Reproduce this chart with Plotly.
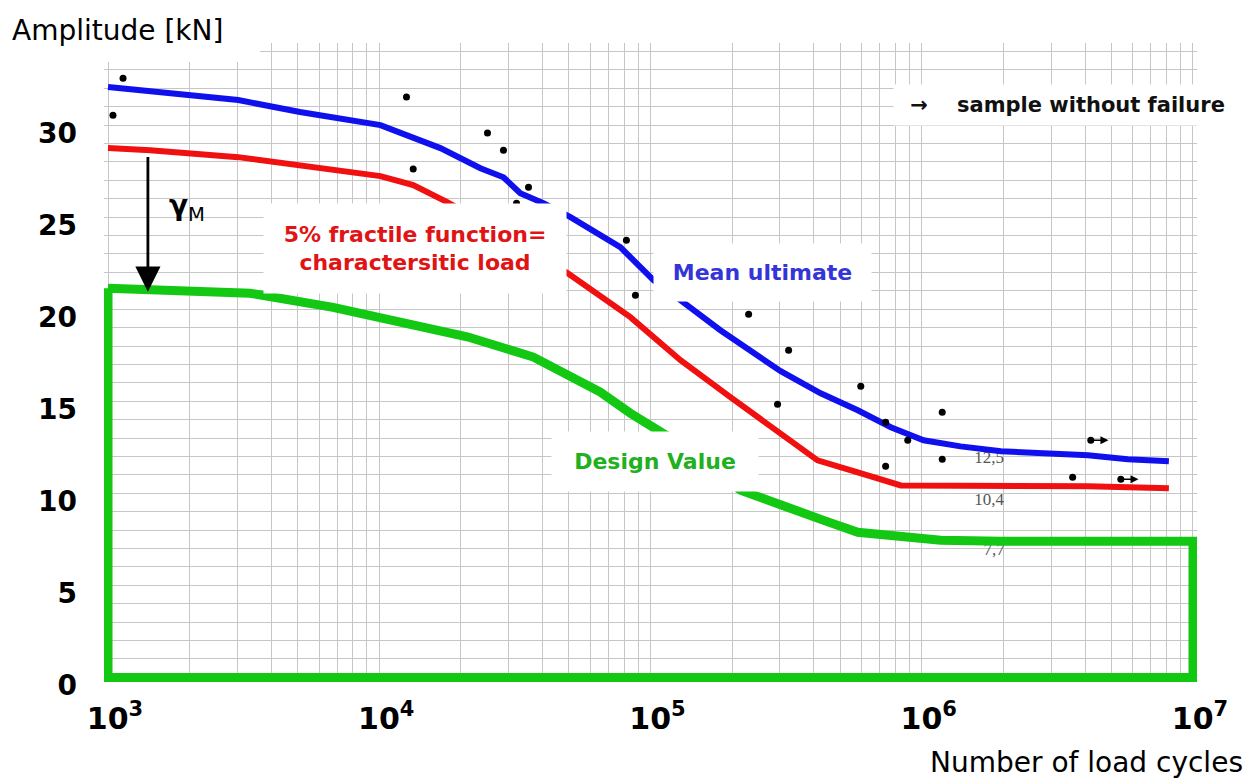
import math
import plotly.graph_objects as go

# ---------------- data ----------------
blue_x = [1000, 2010, 3020, 5100, 10100, 16800, 23600, 28700, 33100, 40300, 50700, 77400,
          102600, 126000, 181000, 302000, 424000, 581000, 769000, 1016000, 1390000,
          1960000, 4100000, 5750000, 8150000]
blue_y = [32.07, 31.63, 31.36, 30.71, 30.0, 28.75, 27.66, 27.17, 26.30, 25.76, 25.0, 23.37,
          21.58, 20.60, 18.86, 16.63, 15.43, 14.51, 13.59, 12.88, 12.55,
          12.28, 12.07, 11.85, 11.74]

red_x = [1000, 1430, 3020, 5100, 10100, 13340, 17800, 29600, 49400, 84300, 129000, 197000,
         302000, 413000, 581000, 724000, 837000, 4100000, 8150000]
red_y = [28.75, 28.64, 28.26, 27.83, 27.23, 26.74, 25.82, 24.0, 21.96, 19.57, 17.23, 15.22,
         13.26, 11.79, 11.14, 10.71, 10.43, 10.38, 10.27]

green_x = [1000, 3340, 6760, 11950, 21100, 37000, 65300, 84300, 118700, 215000, 329000,
           435000, 581000, 769000, 1175000, 1960000, 10000000]
green_y = [21.14, 20.87, 20.1, 19.3, 18.5, 17.4, 15.5, 14.35, 13.0, 10.16, 9.24,
           8.53, 7.88, 7.72, 7.45, 7.39, 7.39]

dots_x = [1136, 1043, 12600, 13340, 25060, 28700, 35500, 32060, 81500, 88000, 230000,
          323000, 294000, 596000, 736000, 888000, 736000, 1190000, 1190000, 3600000]
dots_y = [32.55, 30.54, 31.52, 27.61, 29.57, 28.64, 26.63, 25.76, 23.75, 20.76, 19.73,
          17.77, 14.84, 15.82, 13.86, 12.88, 11.47, 14.40, 11.85, 10.87]

runout_x = [4200000, 5420000]
runout_y = [12.88, 10.76]

value_labels = ["12,5", "10,4", "7,7"]
value_x = [1770000, 1770000, 1850000]
value_y = [11.85, 9.57, 6.9]

x_tickvals = [1e3, 1e4, 1e5, 1e6, 1e7]
x_ticktext = ["10<sup>3</sup>", "10<sup>4</sup>", "10<sup>5</sup>", "10<sup>6</sup>", "10<sup>7</sup>"]
y_tickvals = [0, 5, 10, 15, 20, 25, 30]

gamma_x = 1403
gamma_top = 28.35
gamma_bottom = 20.95

BLUE = "#1010ee"
RED = "#f01010"
GREEN = "#12c812"
BOLD = "DejaVu Sans"

fig = go.Figure()

# small value labels (drawn under the curves)
fig.add_trace(go.Scatter(x=value_x, y=value_y, text=value_labels, mode="text",
                         textfont=dict(family="Liberation Serif", size=17, color="#555555"),
                         hoverinfo="skip", showlegend=False))

# design value (closed box)
gx = green_x + [green_x[-1], green_x[0], green_x[0]]
gy = green_y + [0, 0, green_y[0]]
fig.add_trace(go.Scatter(x=gx, y=gy, mode="lines", line=dict(color=GREEN, width=9),
                         showlegend=False, hoverinfo="skip"))
fig.add_trace(go.Scatter(x=red_x, y=red_y, mode="lines", line=dict(color=RED, width=6),
                         showlegend=False, hoverinfo="skip"))
fig.add_trace(go.Scatter(x=blue_x, y=blue_y, mode="lines", line=dict(color=BLUE, width=6),
                         showlegend=False, hoverinfo="skip"))
fig.add_trace(go.Scatter(x=dots_x + runout_x, y=dots_y + runout_y, mode="markers",
                         marker=dict(color="black", size=7), showlegend=False, hoverinfo="skip"))

annotations = []
# run-out arrows
for rx, ry in zip(runout_x, runout_y):
    lx = math.log10(rx)
    annotations.append(dict(x=lx + 0.065, y=ry, ax=lx + 0.005, ay=ry, xref="x", yref="y",
                            axref="x", ayref="y", showarrow=True, arrowhead=2, arrowsize=1,
                            arrowwidth=1.6, arrowcolor="black", text=""))
# gamma_M arrow
annotations.append(dict(x=math.log10(gamma_x), y=gamma_bottom, ax=math.log10(gamma_x), ay=gamma_top,
                        xref="x", yref="y", axref="x", ayref="y", showarrow=True, arrowhead=2,
                        arrowsize=1.8, arrowwidth=2.8, arrowcolor="black", text=""))
annotations.append(dict(x=math.log10(1954), y=25.55, xref="x", yref="y", showarrow=False,
                        text="<b>γ</b><sub>M</sub>",
                        font=dict(family="DejaVu Sans", size=28, color="black")))

# labels with white boxes
annotations.append(dict(x=4.133, y=23.3, xref="x", yref="y", showarrow=False,
                        text="5% fractile function=<br>charactersitic load",
                        font=dict(family=BOLD, size=22, color="#e01414", weight="bold"),
                        bgcolor="white", width=300, height=87, align="center"))
annotations.append(dict(x=5.413, y=22.0, xref="x", yref="y", showarrow=False,
                        text="Mean ultimate",
                        font=dict(family=BOLD, size=22, color="#3434d8", weight="bold"),
                        bgcolor="white", width=215, height=55))
annotations.append(dict(x=5.018, y=11.74, xref="x", yref="y", showarrow=False,
                        text="Design Value",
                        font=dict(family=BOLD, size=22, color="#20b020", weight="bold"),
                        bgcolor="white", width=204, height=57))
annotations.append(dict(x=6.539, y=31.09, xref="x", yref="y", showarrow=False,
                        text="→\u00a0\u00a0\u00a0\u00a0sample without failure",
                        font=dict(family=BOLD, size=21, color="#111111", weight="bold"),
                        bgcolor="white", width=345, height=38))

# axis titles
annotations.append(dict(x=-0.086, y=1.0203, xref="paper", yref="paper", xanchor="left",
                        yanchor="middle", showarrow=False, text="Amplitude [kN]",
                        font=dict(family="DejaVu Sans", size=28, color="black")))
annotations.append(dict(x=1.044, y=-0.126, xref="paper", yref="paper", xanchor="right",
                        yanchor="middle", showarrow=False, text="Number of load cycles",
                        font=dict(family="DejaVu Sans", size=28, color="black")))

GRID = "#c6c6c6"
fig.update_layout(
    width=1257, height=778,
    margin=dict(l=96, r=68, t=35, b=104),
    paper_bgcolor="white", plot_bgcolor="white",
    showlegend=False,
    annotations=annotations,
    shapes=[dict(type="rect", xref="paper", yref="paper", x0=-0.01, x1=(260 - 104) / 1093,
                 y0=(681.6 - 62) / 638.6, y1=1.01, fillcolor="white", line=dict(width=0),
                 layer="above")],
    xaxis=dict(type="log", range=[2.9852, 7.0148], tickvals=x_tickvals, ticktext=x_ticktext,
               showgrid=True, gridcolor=GRID, gridwidth=1, zeroline=False, showline=False,
               ticks="", ticklabelstandoff=16, ticklabelshift=7,
               tickfont=dict(family=BOLD, size=30, color="black", weight="bold"),
               minor=dict(dtick="D1", showgrid=True, gridcolor=GRID, gridwidth=1, ticks="")),
    yaxis=dict(range=[-0.25, 34.46], tickvals=y_tickvals, showgrid=True, gridcolor=GRID,
               gridwidth=1, zeroline=False, showline=False, ticks="", ticklabelstandoff=26,
               ticklabelshift=8,
               tickfont=dict(family=BOLD, size=28, color="black", weight="bold"),
               minor=dict(dtick=1, showgrid=True, gridcolor=GRID, gridwidth=1, ticks="")),
)

fig.write_html("out.html")
